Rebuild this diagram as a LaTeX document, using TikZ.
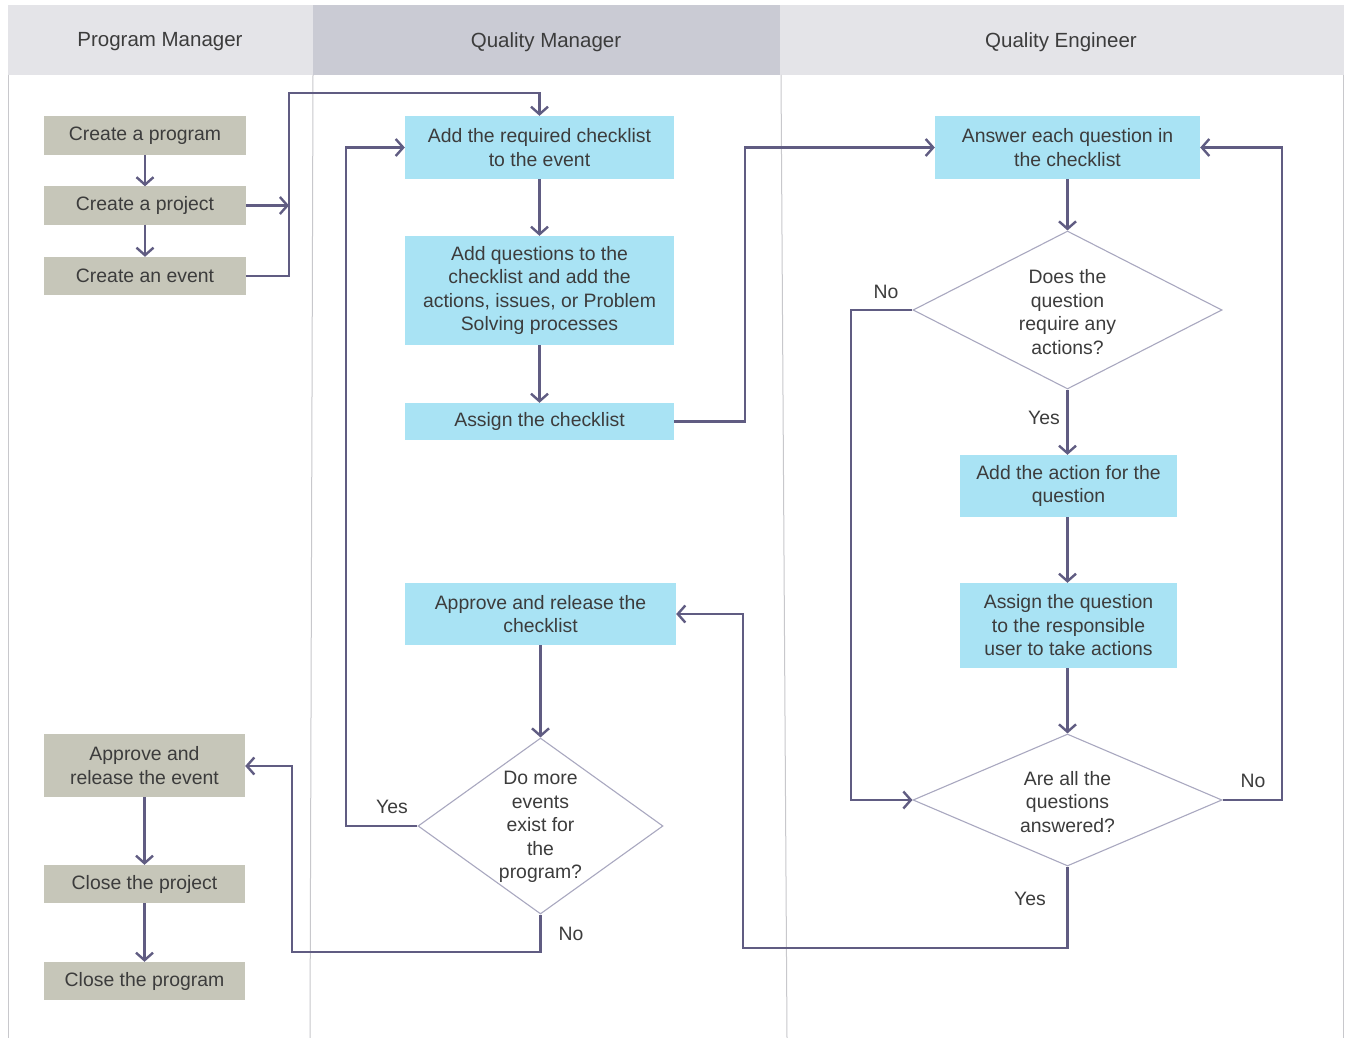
\documentclass[tikz,border=0pt]{standalone}
\usepackage{fontspec}
\setmainfont{Liberation Sans}
\usetikzlibrary{arrows.meta,shapes.geometric}
\definecolor{hdrA}{HTML}{E4E4E8}
\definecolor{hdrB}{HTML}{CACBD4}
\definecolor{pmfill}{HTML}{C6C6B9}
\definecolor{qfill}{HTML}{A9E3F4}
\definecolor{txtc}{HTML}{3C3C3C}
\definecolor{linec}{HTML}{605C82}
\definecolor{diac}{HTML}{A9A8C0}
\definecolor{lanec}{HTML}{C8C8CC}
\tikzset{
  box/.style={draw=none, inner sep=0pt, align=center, text=txtc, font=\fontsize{19.4}{23.5}\selectfont},
  pmbox/.style={box, fill=pmfill},
  qbox/.style={box, fill=qfill},
  dia/.style={diamond, draw=diac, line width=1.1pt, fill=white, inner sep=0pt},
  diatxt/.style={align=center, text=txtc, font=\fontsize{19.4}{23.5}\selectfont, inner sep=0pt},
  lbl/.style={text=txtc, font=\fontsize{19.4}{23}\selectfont, inner sep=0pt},
  hdr/.style={text=txtc, font=\fontsize{20.5}{24}\selectfont, inner sep=0pt},
  conn/.style={draw=linec, line width=2.4pt},
  arr/.style={conn, -{Straight Barb[length=7.5pt,width=17pt]}},
}
\begin{document}
\begin{tikzpicture}[x=1pt,y=-1pt]
\fill[white] (0,0) rectangle (1345,1038);
\useasboundingbox (0,0) rectangle (1345,1038);
% headers
\fill[hdrA] (8,5) rectangle (313,75);
\fill[hdrB] (313,5) rectangle (780,75);
\fill[hdrA] (780,5) rectangle (1344,75);
\node[hdr] (h1) at (160,42) {Program Manager};
\node[hdr] (h2) at (546,42) {Quality Manager};
\node[hdr] (h3) at (1061,42) {Quality Engineer};
% lane lines
\draw[lanec, line width=1pt] (8.5,75) -- (8.5,1038);
\draw[lanec, line width=1pt] (313,75) -- (310,1038);
\draw[lanec, line width=1pt] (781,75) -- (787,1038);
\draw[lanec, line width=1pt] (1343.5,75) -- (1343.5,1038);
% Program Manager boxes
\node[pmbox, minimum width=202, minimum height=39] (p1) at (145,135.5) {Create a program};
\node[pmbox, minimum width=202, minimum height=38] (p2) at (145,205.5) {Create a project};
\node[pmbox, minimum width=202, minimum height=38] (p3) at (145,276) {Create an event};
\node[pmbox, minimum width=201, minimum height=63] (p4) at (144.5,765.5) {Approve and\\release the event};
\node[pmbox, minimum width=201, minimum height=38] (p5) at (144.5,884) {Close the project};
\node[pmbox, minimum width=201, minimum height=38] (p6) at (144.5,981) {Close the program};
% Quality Manager boxes
\node[qbox, minimum width=269, minimum height=63] (q1) at (539.5,147.5) {Add the required checklist\\to the event};
\node[qbox, minimum width=269, minimum height=109] (q2) at (539.5,290.5) {Add questions to the\\checklist and add the\\actions, issues, or Problem\\Solving processes};
\node[qbox, minimum width=269, minimum height=37] (q3) at (539.5,421.5) {Assign the checklist};
\node[qbox, minimum width=271, minimum height=62] (q4) at (540.5,614) {Approve and release the\\checklist};
\node[dia, minimum width=245, minimum height=176] (d3) at (540.5,826) {};
\node[diatxt] (d3t) at (540.5,827) {Do more\\events\\exist for\\the\\program?};
% Quality Engineer boxes
\node[qbox, minimum width=265, minimum height=63] (e1) at (1067.5,147.5) {Answer each question in\\the checklist};
\node[dia, minimum width=309, minimum height=158] (d1) at (1067.5,310) {};
\node[diatxt] (d1t) at (1067.5,312) {Does the\\question\\require any\\actions?};
\node[qbox, minimum width=217, minimum height=62] (e2) at (1068.5,486) {Add the action for the\\question};
\node[qbox, minimum width=217, minimum height=85] (e3) at (1068.5,625.5) {Assign the question\\to the responsible\\user to take actions};
\node[dia, minimum width=309, minimum height=132] (d2) at (1067.5,800) {};
\node[diatxt] (d2t) at (1067.5,802) {Are all the\\questions\\answered?};
% coordinates
\coordinate (c1) at (289,205.5);
% connectors
\draw[arr] (p1) -- (p2);
\draw[arr] (p2) -- (p3);
\draw[arr] (p2.east) -- (c1);
\draw[arr] (p3.east) -- (289,276) -- (289,93) -- (539.5,93) -- (q1.north);
\draw[arr] (q1) -- (q2);
\draw[arr] (q2) -- (q3);
\draw[arr] (q3.east) -- (745,421.5) -- (745,147.5) -- (e1.west);
\draw[arr] (e1) -- (d1);
\draw[arr] (d1.south) -- (e2.north -| d1.south);
\draw[arr] (d1.west) -- (851,310) -- (851,800) -- (d2.west);
\draw[arr] (e2.south -| d1.south) -- (e3.north -| d1.south);
\draw[arr] (e3.south -| d2.north) -- (d2.north);
\draw[arr] (d2.east) -- (1282,800) -- (1282,147.5) -- (e1.east);
\draw[arr] (d2.south) -- (1067.5,948) -- (743,948) -- (743,614) -- (q4.east);
\draw[arr] (q4) -- (d3);
\draw[arr] (d3.west) -- (346,826) -- (346,147.5) -- (q1.west);
\draw[arr] (d3.south) -- (540.5,952) -- (292,952) -- (292,766) -- (p4.east |- 0,766);
\draw[arr] (p4) -- (p5);
\draw[arr] (p5) -- (p6);
% labels
\node[lbl] (l1) at (1044,418) {Yes};
\node[lbl] (l2) at (886,292) {No};
\node[lbl] (l3) at (1253,781) {No};
\node[lbl] (l4) at (1030,899) {Yes};
\node[lbl] (l5) at (392,807) {Yes};
\node[lbl] (l6) at (571,934) {No};
\end{tikzpicture}
\end{document}
